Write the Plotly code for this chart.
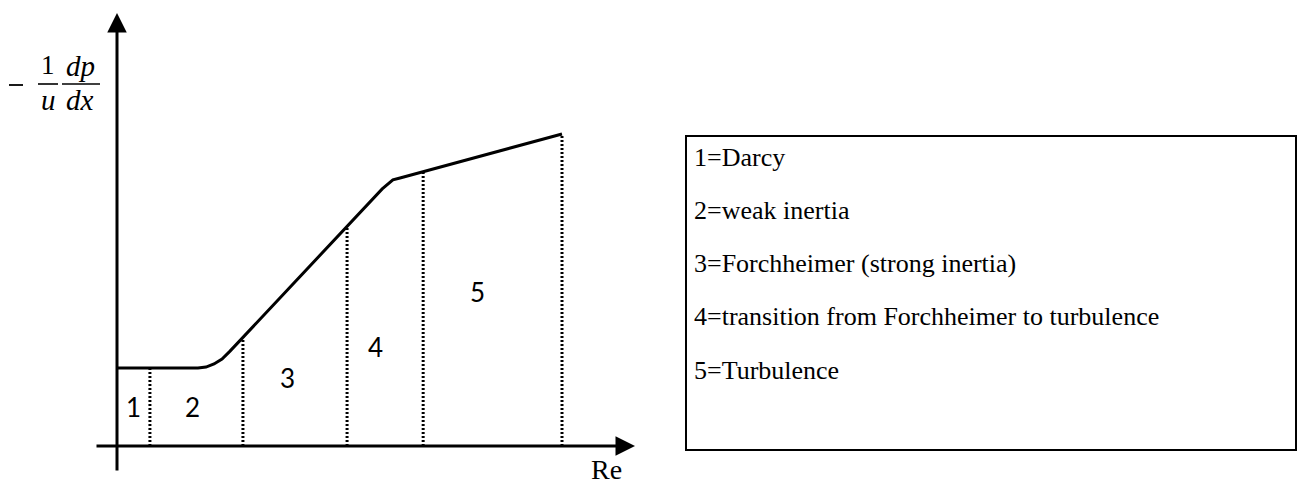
import numpy as np
import plotly.graph_objects as go

# Schematic friction-factor curve versus Reynolds number (arbitrary units)
curve_re = [0.0, 1.82, 2.00, 2.18, 2.36, 2.54, 5.96, 6.09, 6.20, 6.36, 10.0]
curve_f = [2.50, 2.50, 2.53, 2.63, 2.79, 3.04, 8.24, 8.41, 8.53, 8.59, 10.0]

# Boundaries between flow regimes along Re
regime_bounds = [0.74, 2.83, 5.17, 6.88, 10.0]

# Regime numbers and where they are written inside each band
regime_ids = ["1", "2", "3", "4", "5"]
regime_label_re = [0.36, 1.69, 3.84, 5.80, 8.09]
regime_label_f = [1.25, 1.25, 2.18, 3.17, 4.94]

legend_lines = [
    "1=Darcy",
    "2=weak inertia",
    "3=Forchheimer (strong inertia)",
    "4=transition from Forchheimer to turbulence",
    "5=Turbulence",
]

W, H = 1302, 487
X0_PX, XS = 117.0, 44.5     # pixel of Re=0 and pixels per unit
Y0_PX, YS = 446.0, 31.2     # pixel of f=0 and pixels per unit


def px_x(px):
    return (px - X0_PX) / XS


def px_y(py):
    return (Y0_PX - py) / YS


fig = go.Figure()

# Dotted verticals separating the regimes, up to the curve
for b in regime_bounds:
    top = float(np.interp(b, curve_re, curve_f))
    fig.add_trace(go.Scatter(
        x=[b, b], y=[0, top], mode="lines",
        line=dict(color="black", width=3, dash="2px,2px"),
        hoverinfo="skip", showlegend=False,
    ))

fig.add_trace(go.Scatter(
    x=curve_re, y=curve_f, mode="lines",
    line=dict(color="black", width=3),
    hoverinfo="skip", showlegend=False,
))

annotations = []

# Axes with arrowheads
annotations.append(dict(
    x=px_x(635), y=0, ax=px_x(95), ay=0, xref="x", yref="y",
    axref="x", ayref="y", text="", showarrow=True,
    arrowhead=2, arrowsize=1.3, arrowwidth=3, arrowcolor="black", standoff=0,
))
annotations.append(dict(
    x=0, y=px_y(13), ax=0, ay=px_y(472), xref="x", yref="y",
    axref="x", ayref="y", text="", showarrow=True,
    arrowhead=2, arrowsize=1.3, arrowwidth=3, arrowcolor="black", standoff=0,
))

# Regime numbers
for rid, rx, ry in zip(regime_ids, regime_label_re, regime_label_f):
    annotations.append(dict(
        x=rx, y=ry, xref="x", yref="y", text=rid, showarrow=False,
        font=dict(family="Lato", size=26, color="black"),
    ))

# Axis titles
annotations.append(dict(
    x=px_x(606), y=px_y(469), xref="x", yref="y", text="Re", showarrow=False,
    borderpad=0, font=dict(family="Liberation Serif", size=28, color="black"),
))

serif_it = dict(family="Liberation Serif", size=29, color="black")
annotations += [
    dict(x=px_x(48), y=px_y(65), xref="x", yref="y", text="1", showarrow=False,
         font=dict(family="Liberation Serif", size=27, color="black")),
    dict(x=px_x(48), y=px_y(100), xref="x", yref="y", text="<i>u</i>", showarrow=False,
         font=serif_it),
    dict(x=px_x(80), y=px_y(66), xref="x", yref="y", text="<i>dp</i>", showarrow=False,
         font=serif_it),
    dict(x=px_x(80), y=px_y(100), xref="x", yref="y", text="<i>dx</i>", showarrow=False,
         font=serif_it),
]

# Legend text block
for i, line in enumerate(legend_lines):
    annotations.append(dict(
        x=692 / W, y=1 - (157 + 53.3 * i) / H, xref="paper", yref="paper",
        xanchor="left", yanchor="middle", text=line, showarrow=False,
        font=dict(family="Liberation Serif", size=26, color="black"),
    ))

shapes = [
    # minus sign and fraction bars of the y-axis title
    dict(type="line", xref="paper", yref="paper", x0=9 / W, x1=23 / W,
         y0=1 - 85 / H, y1=1 - 85 / H, line=dict(color="black", width=1.8)),
    dict(type="line", xref="paper", yref="paper", x0=38 / W, x1=58 / W,
         y0=1 - 84 / H, y1=1 - 84 / H, line=dict(color="black", width=1.6)),
    dict(type="line", xref="paper", yref="paper", x0=62 / W, x1=100 / W,
         y0=1 - 84 / H, y1=1 - 84 / H, line=dict(color="black", width=1.6)),
    # legend frame
    dict(type="rect", xref="paper", yref="paper", x0=686 / W, x1=1296 / W,
         y0=1 - 450 / H, y1=1 - 136 / H, line=dict(color="black", width=2)),
]

fig.update_layout(
    width=W, height=H,
    margin=dict(l=0, r=0, t=0, b=0),
    paper_bgcolor="white", plot_bgcolor="white",
    xaxis=dict(range=[px_x(0), px_x(W)], visible=False, fixedrange=True),
    yaxis=dict(range=[px_y(H), px_y(0)], visible=False, fixedrange=True),
    annotations=annotations, shapes=shapes, showlegend=False,
)

fig.write_html("out.html")
